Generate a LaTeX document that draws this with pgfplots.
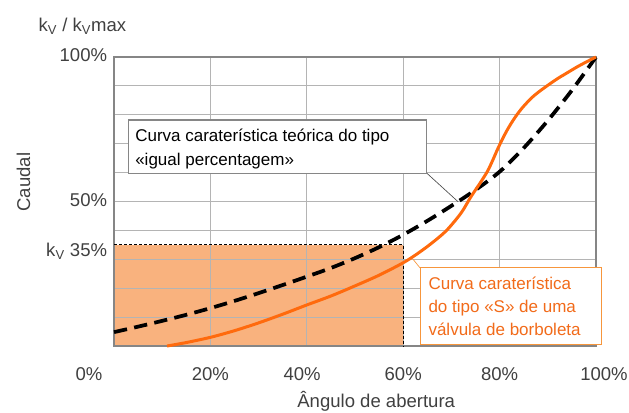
\documentclass[border=0pt]{standalone}
\usepackage{fontspec}
\setmainfont{Liberation Sans}
\usepackage{pgfplots}
\pgfplotsset{compat=1.18}
\definecolor{framegray}{HTML}{868686}
\definecolor{gridgray}{HTML}{B4B4B4}
\definecolor{rectorange}{HTML}{F9B27E}
\definecolor{curveorange}{HTML}{FF6A0D}
\definecolor{boxorange}{HTML}{F7963C}
\definecolor{textorange}{HTML}{F26B1A}
\definecolor{textgray}{HTML}{404040}
\newcommand{\lblfont}{\fontsize{13.9}{16}\selectfont}
\newcommand{\boxfont}{\fontsize{12.75}{15}\selectfont}
\begin{document}
\begin{tikzpicture}
\begin{axis}[
  at={(0,0)}, anchor=south west,
  width=361.5pt, height=216.75pt, scale only axis,
  xmin=0, xmax=100, ymin=0, ymax=100,
  xtick={0,20,...,100}, ytick={0,10,...,100},
  xticklabels={0\%\hspace*{37.5pt}, 20\%, 40\%\hspace*{7pt}, 60\%, 80\%, \hspace*{12pt}100\%},
  yticklabels={,,,,,50\%,,,,,100\%},
  extra y ticks={35}, extra y tick labels={k\textsubscript{V} 35\%},
  extra y tick style={grid=none, yticklabel style={yshift=-5.3pt}},
  grid=major, major grid style={draw=gridgray, line width=0.75pt},
  major tick length=0pt,
  axis line style={draw=framegray, line width=1.5pt},
  tick label style={font=\lblfont, text=textgray},
  xticklabel style={anchor=base, yshift=-26.1pt},
  yticklabel style={anchor=base east, inner sep=0pt, xshift=-5pt, yshift=-3.4pt},
  /pgf/number format/assume math mode=true,
  clip=false,
  set layers,
]
% shaded area
\addplot[fill=rectorange, draw=none, on layer=axis background] coordinates {(0,35) (60,35)} \closedcycle;
\addplot[black, line width=0.75pt, dash pattern=on 2.25pt off 1.5pt] coordinates {(0,35) (60,35) (60,0)};
% theoretical equal percentage curve
\addplot[black, line width=2.8pt, dash pattern=on 10pt off 5.5pt, smooth] table {
x y
0 4.8
5 6.7
10 8.7
15 10.8
20 13.1
25 15.6
30 18.3
35 21.1
40 24
45 27
50 30.4
55 34.2
60 38.5
65 43.3
70 48.5
75 54
80 60.3
85 68.5
90 78
95 88.5
100 100
};
% S-curve of butterfly valve
\addplot[curveorange, line width=2.25pt, smooth] table {
x y
11 0
15 1.2
20 3
25 5.3
30 8
35 11
40 14.2
45 17.3
50 20.8
55 24.5
60 28.8
63 32
66 35.7
69 40
72 46
74 51.5
76 56.5
77.5 60.5
78.5 64
79.5 67.8
80.5 71.3
81.5 74.5
82.5 77.3
83.5 79.8
84.5 82
85.5 83.9
87 86.4
88.5 88.4
90 90.2
92 92.5
94 94.5
96 96.5
98 98.3
100 100
};
% annotation: theoretical curve
\draw[draw=black!70, line width=0.5pt] (axis cs:64.9,59.8) -- (axis cs:71.4,49.9);
\draw[draw=framegray, line width=1pt, fill=white] (axis cs:2.97,78.2) rectangle (axis cs:64.9,59.8);
\node[anchor=base west, inner sep=0pt, font=\boxfont, text=black] at (axis cs:4.36,70.7) {Curva caraterística teórica do tipo};
\node[anchor=base west, inner sep=0pt, font=\boxfont, text=black] at (axis cs:4.36,62.6) {«igual percentagem»};
% annotation: S curve
\draw[draw=boxorange, line width=0.5pt] (axis cs:63.5,27.0) -- (axis cs:62.0,30.1);
\draw[draw=boxorange, line width=0.75pt, fill=white] (axis cs:63.5,27.0) rectangle (axis cs:101.2,0.35);
\node[anchor=base west, inner sep=0pt, font=\boxfont, text=textorange] at (axis cs:65.2,19.6) {Curva caraterística};
\node[anchor=base west, inner sep=0pt, font=\boxfont, text=textorange] at (axis cs:65.2,11.5) {do tipo «S» de uma};
\node[anchor=base west, inner sep=0pt, font=\boxfont, text=textorange] at (axis cs:65.2,3.5) {válvula de borboleta};
% axis descriptions
\node[anchor=base west, inner sep=0pt, font=\lblfont, text=textgray] at (axis cs:-15.7,108.8) {k\textsubscript{V} / k\textsubscript{V}max};
\node[rotate=90, anchor=center, inner sep=0pt, font=\lblfont, text=textgray] at (axis cs:-18.8,56.7) {Caudal};
\node[anchor=base, inner sep=0pt, font=\lblfont, text=textgray] at (axis cs:54.4,-21.2) {Ângulo de abertura};
\end{axis}
\pgfresetboundingbox
\path[use as bounding box] (-85.5pt,-49.5pt) rectangle (386.25pt,259.5pt);
\end{tikzpicture}
\end{document}
